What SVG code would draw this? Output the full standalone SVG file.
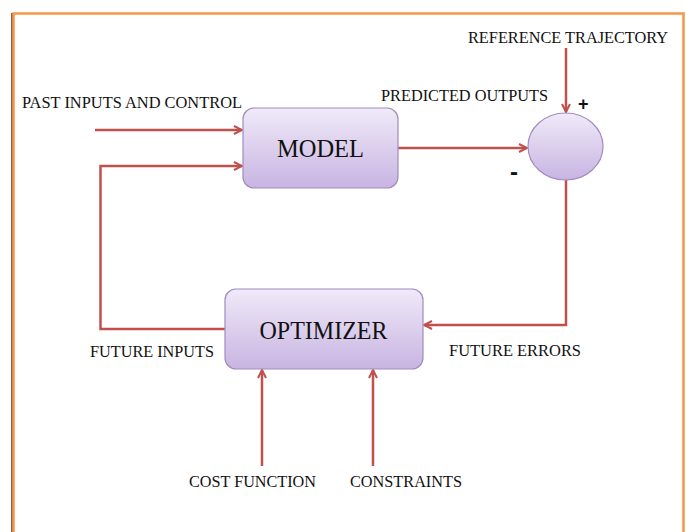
<svg xmlns="http://www.w3.org/2000/svg" width="686" height="532" viewBox="0 0 686 532">
  <style>
    .lbl { font-family: "Liberation Serif", "Times New Roman", serif; font-size: 16.5px; fill: #111; }
    .big { font-family: "Liberation Serif", "Times New Roman", serif; font-size: 26px; fill: #111; text-anchor: middle; }
    .sign { font-family: "Liberation Sans", Arial, sans-serif; font-weight: bold; fill: #111; }
    .box { fill: url(#boxFill); stroke: #A08CC0; stroke-width: 1.2; }
    .wire-end { fill: none; stroke: #C0504D; stroke-width: 2.5; marker-end: url(#head); }
  </style>
  <defs>
    <linearGradient id="boxFill" x1="0" y1="0" x2="0" y2="1">
      <stop offset="0" stop-color="#F0EAF8"/>
      <stop offset="1" stop-color="#C8B4E2"/>
    </linearGradient>
    <marker id="head" viewBox="0 0 10 10" refX="9" refY="5" markerWidth="4" markerHeight="4" orient="auto" markerUnits="strokeWidth">
      <polyline points="1,1 9,5 1,9" fill="none" stroke="#C0504D" stroke-width="2"/>
    </marker>
  </defs>

  <rect width="686" height="532" fill="#ffffff"/>
  <!-- page frame -->
  <line x1="12" y1="13" x2="12" y2="532" stroke="#6B2A10" stroke-width="1.5"/>
  <path d="M13.5,532 V13.5 H683.5 V532" fill="none" stroke="#F79646" stroke-width="2.5"/>

  <g id="connectors">
    <line class="wire-end" x1="95" y1="130" x2="242" y2="130"/>
    <polyline class="wire-end" points="225,329 100.5,329 100.5,166 242,166"/>
    <line class="wire-end" x1="398" y1="148" x2="527" y2="148"/>
    <line class="wire-end" x1="566" y1="48" x2="566" y2="112"/>
    <polyline class="wire-end" points="566,180 566,325 424,325"/>
    <line class="wire-end" x1="262" y1="466" x2="262" y2="370"/>
    <line class="wire-end" x1="373" y1="466" x2="373" y2="370"/>
  </g>

  <g id="model">
    <rect class="box" x="243" y="108" width="155" height="80" rx="11"/>
    <text class="big" x="320.5" y="157" textLength="87" lengthAdjust="spacingAndGlyphs">MODEL</text>
  </g>

  <g id="optimizer">
    <rect class="box" x="225" y="289" width="198" height="80" rx="11"/>
    <text class="big" x="323.5" y="339" textLength="128" lengthAdjust="spacingAndGlyphs">OPTIMIZER</text>
  </g>

  <g id="comparator">
    <ellipse class="box" cx="565.5" cy="146.5" rx="37.5" ry="33.5"/>
    <text class="sign" x="578" y="110" font-size="18">+</text>
    <text class="sign" x="510" y="180" font-size="24">-</text>
  </g>

  <g id="labels">
    <text class="lbl" x="468" y="43" textLength="200" lengthAdjust="spacingAndGlyphs">REFERENCE TRAJECTORY</text>
    <text class="lbl" x="22" y="108" textLength="220" lengthAdjust="spacingAndGlyphs">PAST INPUTS AND CONTROL</text>
    <text class="lbl" x="381" y="101" textLength="167" lengthAdjust="spacingAndGlyphs">PREDICTED OUTPUTS</text>
    <text class="lbl" x="90" y="357" textLength="124" lengthAdjust="spacingAndGlyphs">FUTURE INPUTS</text>
    <text class="lbl" x="449" y="356" textLength="132" lengthAdjust="spacingAndGlyphs">FUTURE ERRORS</text>
    <text class="lbl" x="189" y="487" textLength="127" lengthAdjust="spacingAndGlyphs">COST FUNCTION</text>
    <text class="lbl" x="350" y="487" textLength="112" lengthAdjust="spacingAndGlyphs">CONSTRAINTS</text>
  </g>
</svg>
